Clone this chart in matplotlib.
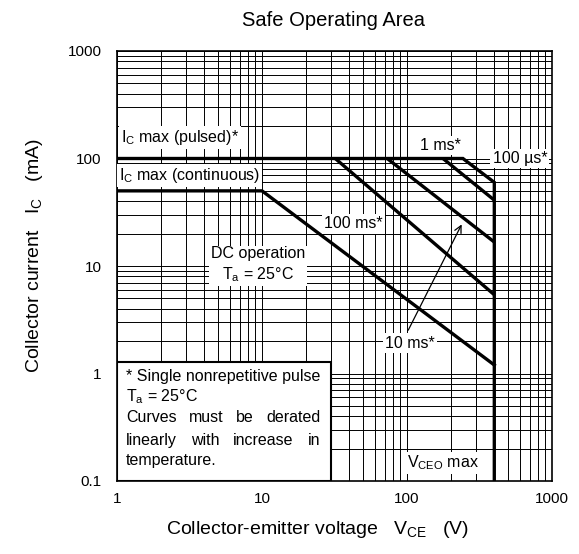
import matplotlib
matplotlib.use('Agg')
import matplotlib.pyplot as plt
from matplotlib.patches import Rectangle
from matplotlib.ticker import FuncFormatter, NullFormatter

plt.rcParams['font.family'] = ['Liberation Sans', 'DejaVu Sans']
plt.rcParams['mathtext.fontset'] = 'custom'
plt.rcParams['mathtext.rm'] = 'Liberation Sans'
plt.rcParams['mathtext.it'] = 'Liberation Sans:italic'

# data (V in volts, I in mA)
vceo_max = 400
ic_pulsed = 100
dc_v = [1, 10, vceo_max]
dc_i = [50, 50, 1.2]
pulse_names = ['100 ms', '10 ms', '1 ms', '100 µs']
pulse_start_v = [32, 73, 177, 243]     # where each pulse line leaves Ic max (pulsed)
pulse_end_i = [5.4, 16.7, 41, 60]      # current at VCEO max

fs = 11.5

fig = plt.figure(figsize=(5.79, 5.54), dpi=100)
ax = fig.add_axes([117 / 579, 1 - 481 / 554, 435 / 579, 430 / 554])
ax.set_xscale('log')
ax.set_yscale('log')
ax.set_xlim(1, 1000)
ax.set_ylim(0.1, 1000)

ax.grid(which='both', color='black', lw=0.7)
ax.tick_params(which='both', length=0, labelsize=11)
ax.tick_params(axis='y', pad=11)
ax.tick_params(axis='x', pad=8)
fmt = FuncFormatter(lambda v, p: f'{v:g}')
ax.xaxis.set_major_formatter(fmt)
ax.yaxis.set_major_formatter(fmt)
ax.xaxis.set_minor_formatter(NullFormatter())
ax.yaxis.set_minor_formatter(NullFormatter())
for s in ax.spines.values():
    s.set_linewidth(1.2)

lw = 2.4
# DC line
ax.plot(dc_v, dc_i, color='black', lw=lw, zorder=3, solid_joinstyle='miter')
# Ic max pulsed + 100 us line + VCEO max
ax.plot([1, pulse_start_v[-1], vceo_max, vceo_max],
        [ic_pulsed, ic_pulsed, pulse_end_i[-1], 0.1],
        color='black', lw=lw, zorder=3, solid_joinstyle='miter')
for v0, i1 in zip(pulse_start_v[:-1], pulse_end_i[:-1]):
    ax.plot([v0, vceo_max], [ic_pulsed, i1], color='black', lw=lw, zorder=3,
            solid_capstyle='butt')

box = dict(facecolor='white', edgecolor='none', pad=1.5)
ax.text(1.07, 158, r'I$_\mathregular{C}$ max (pulsed)*', fontsize=fs,
        va='center', ha='left', bbox=box, zorder=5)
ax.text(1.03, 69, r'I$_\mathregular{C}$ max (continuous)', fontsize=fs,
        va='center', ha='left', bbox=box, zorder=5)
ax.text(9.4, 10.2, 'DC operation\n' + r'T$_\mathregular{a}$ = 25°C', fontsize=fs,
        va='center', ha='center', bbox=box, zorder=5, linespacing=1.3)
ax.text(42.5, 24.6, pulse_names[0] + '*', fontsize=fs, va='center', ha='center',
        bbox=box, zorder=5)
ax.text(170, 133, pulse_names[2] + '*', fontsize=fs, va='center', ha='center',
        bbox=box, zorder=5)
ax.text(600, 100, pulse_names[3] + '*', fontsize=fs, va='center', ha='center',
        bbox=box, zorder=5)
ax.text(105, 1.92, pulse_names[1] + '*', fontsize=fs, va='center', ha='center',
        bbox=box, zorder=5)
ax.annotate('', xy=(243, 25.7), xytext=(100, 2.4),
            arrowprops=dict(arrowstyle='->,head_length=0.5,head_width=0.25',
                            lw=0.9, color='black'), zorder=5)
ax.text(177, 0.147, r'V$_\mathregular{CEO}$ max', fontsize=fs, va='center',
        ha='center', bbox=box, zorder=5)

# note box
ax.add_patch(Rectangle((0, 0), 0.492, 0.277, transform=ax.transAxes,
                       facecolor='white', edgecolor='black', lw=1.5, zorder=6))
x0f, x1f = 0.021, 0.467
ax.text(x0f, 0.244, '* Single nonrepetitive pulse', transform=ax.transAxes,
        fontsize=fs, va='center', zorder=7)
ax.text(x0f, 0.195, r'T$_\mathregular{a}$ = 25°C', transform=ax.transAxes,
        fontsize=fs, va='center', zorder=7)
ax.text(x0f, 0.047, 'temperature.', transform=ax.transAxes,
        fontsize=fs, va='center', zorder=7)

fig.canvas.draw()
renderer = fig.canvas.get_renderer()


def justify(words, yf):
    xa = ax.transAxes.transform((x0f, 0))[0]
    xb = ax.transAxes.transform((x1f, 0))[0]
    ts = [ax.text(x0f, yf, w, transform=ax.transAxes, fontsize=fs,
                  va='center', zorder=7) for w in words]
    widths = [t.get_window_extent(renderer).width for t in ts]
    gap = (xb - xa - sum(widths)) / (len(words) - 1)
    x = xa
    for t, w in zip(ts, widths):
        t.set_x(ax.transAxes.inverted().transform((x, 0))[0])
        x += w + gap


justify(['Curves', 'must', 'be', 'derated'], 0.147)
justify(['linearly', 'with', 'increase', 'in'], 0.095)

fig.text(334 / 579, 1 - 21 / 554, 'Safe Operating Area', fontsize=14.5,
         ha='center', va='center')
fig.text(318 / 579, 1 - 530 / 554,
         r'Collector-emitter voltage   V$_\mathregular{CE}$   (V)',
         fontsize=14, ha='center', va='center')
fig.text(35 / 579, 1 - 256 / 554,
         r'Collector current   I$_\mathregular{C}$   (mA)',
         fontsize=14, ha='center', va='center', rotation=90)

fig.savefig('out.png', dpi=100)
